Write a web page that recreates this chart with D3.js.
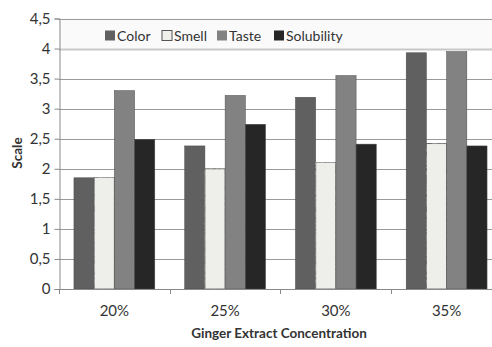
<!DOCTYPE html>
<html>
<head>
<meta charset="utf-8">
<script src="https://cdn.jsdelivr.net/npm/d3@7"></script>
<style>
  html, body { margin: 0; padding: 0; background: #fff; }
  svg text { font-family: Lato, "Open Sans", sans-serif; fill: #333; }
</style>
</head>
<body>
<svg id="chart" width="492" height="347"></svg>
<script>
// Sensory scores per ginger extract concentration
const categories = ["20%", "25%", "30%", "35%"];
const seriesNames = ["Color", "Smell", "Taste", "Solubility"];
const color = [1.85, 2.38, 3.19, 3.93];
const smell = [1.86, 2.0, 2.11, 2.42];
const taste = [3.3, 3.22, 3.55, 3.95];
const solubility = [2.49, 2.74, 2.41, 2.38];
const yTicks = [0, 0.5, 1, 1.5, 2, 2.5, 3, 3.5, 4, 4.5];
const yTickLabels = ["0", "0,5", "1", "1,5", "2", "2,5", "3", "3,5", "4", "4,5"];

const seriesValues = [color, smell, taste, solubility];
const fills = ["#606060", "#efefeb", "#828282", "#262626"];

const svg = d3.select("#chart");
const plotLeft = 59, plotRight = 502, plotTop = 18.5, plotBottom = 289;

const y = d3.scaleLinear().domain([0, 4.5]).range([plotBottom, plotTop]);
const x0 = d3.scaleBand().domain(categories).range([plotLeft, plotRight]).paddingInner(0.27).paddingOuter(0.135);
const x1 = d3.scaleBand().domain(seriesNames).range([0, x0.bandwidth()]);

// speckled texture for the Smell bars
const defs = svg.append("defs");
const filt = defs.append("filter").attr("id", "speckle").attr("x", 0).attr("y", 0).attr("width", 1).attr("height", 1);
filt.append("feTurbulence").attr("type", "fractalNoise").attr("baseFrequency", 0.35).attr("numOctaves", 2).attr("seed", 3).attr("result", "noise");
filt.append("feColorMatrix").attr("in", "noise").attr("type", "matrix")
  .attr("values", "0 0 0 0 0.82  0 0 0 0 0.82  0 0 0 0 0.80  0.6 0 0 0 -0.12").attr("result", "dots");
filt.append("feComposite").attr("in", "dots").attr("in2", "SourceGraphic").attr("operator", "in").attr("result", "clip");
filt.append("feMerge").selectAll("feMergeNode").data(["SourceGraphic", "clip"]).join("feMergeNode").attr("in", d => d);

// legend band
svg.append("rect").attr("x", plotLeft).attr("y", y(4.5)).attr("width", 492 - plotLeft).attr("height", y(4) - y(4.5))
  .attr("fill", "#fafafa");

// gridlines
svg.append("g").selectAll("line").data(yTicks.slice(1)).join("line")
  .attr("x1", plotLeft).attr("x2", 492)
  .attr("y1", d => Math.round(y(d)) + 0.5).attr("y2", d => Math.round(y(d)) + 0.5)
  .attr("stroke", d => d === 4 ? "#c8c8c8" : "#9a9a9a").attr("stroke-width", d => d === 4 ? 2 : 1.2);

// y axis
const yAxis = d3.axisLeft(y).tickValues(yTicks).tickFormat((d, i) => yTickLabels[i]).tickSize(5).tickPadding(4);
const gy = svg.append("g").attr("transform", `translate(${plotLeft + 0.5},0)`).call(yAxis);
gy.select(".domain").attr("stroke", "#8a8a8a");
gy.selectAll(".tick line").attr("stroke", "#8a8a8a");
gy.selectAll(".tick text").attr("font-size", 15).attr("fill", "#333").attr("font-family", "Lato, sans-serif");

// bars
const groups = svg.append("g").selectAll("g").data(categories).join("g")
  .attr("transform", d => `translate(${x0(d)},0)`);
groups.selectAll("rect").data((d, i) => seriesNames.map((s, j) => ({ s, j, v: seriesValues[j][i] })))
  .join("rect")
  .attr("x", d => x1(d.s))
  .attr("y", d => y(d.v))
  .attr("width", x1.bandwidth())
  .attr("height", d => y(0) - y(d.v))
  .attr("fill", d => fills[d.j])
  .attr("stroke", d => d.j === 1 ? "#555" : "#4a4a4a")
  .attr("stroke-width", d => d.j === 1 ? 1 : 0.5)
  .attr("filter", d => d.j === 1 ? "url(#speckle)" : null);

// x axis
svg.append("line").attr("x1", plotLeft).attr("x2", 492).attr("y1", plotBottom + 0.5).attr("y2", plotBottom + 0.5)
  .attr("stroke", "#8a8a8a");
const tickXs = categories.map(c => x0(c) - x0.step() * x0.paddingInner() / 2);
svg.append("g").selectAll("line").data(tickXs).join("line")
  .attr("x1", d => Math.round(d) + 0.5).attr("x2", d => Math.round(d) + 0.5)
  .attr("y1", plotBottom).attr("y2", plotBottom + 5).attr("stroke", "#8a8a8a");
svg.append("g").selectAll("text").data(categories).join("text")
  .attr("x", d => x0(d) + x0.bandwidth() / 2).attr("y", 316)
  .attr("text-anchor", "middle").attr("font-size", 15).text(d => d);

// axis titles
svg.append("text").attr("x", 279).attr("y", 338).attr("text-anchor", "middle")
  .attr("font-size", 13.5).attr("font-weight", "bold").attr("fill", "#222").text("Ginger Extract Concentration");
svg.append("text").attr("transform", "translate(22,153) rotate(-90)").attr("text-anchor", "middle")
  .attr("font-size", 13.5).attr("font-weight", "bold").attr("fill", "#222").text("Scale");

// legend
const legendX = [105, 162, 217, 274];
const lg = svg.append("g").selectAll("g").data(seriesNames).join("g")
  .attr("transform", (d, i) => `translate(${legendX[i]},36)`);
lg.append("rect").attr("x", 0).attr("y", -5.5).attr("width", 10).attr("height", 10)
  .attr("fill", (d, i) => fills[i]).attr("stroke", (d, i) => i === 1 ? "#555" : "none");
lg.append("text").attr("x", 12).attr("y", 5).attr("font-size", 14).text(d => d);
</script>
</body>
</html>
